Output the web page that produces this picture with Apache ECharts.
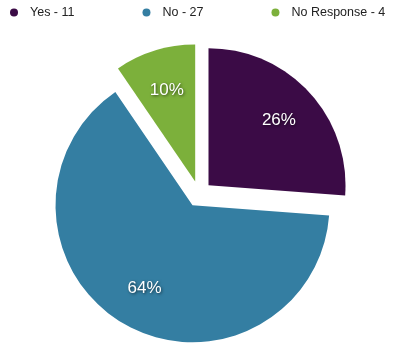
<!DOCTYPE html>
<html>
<head>
<meta charset="utf-8">
<script src="https://cdn.jsdelivr.net/npm/echarts@6/dist/echarts.min.js"></script>
<style>html,body{margin:0;padding:0;background:#fff}#c{width:400px;height:355px}</style>
</head>
<body>
<div id="c"></div>
<script>
const categories = ['Yes', 'No', 'No Response'];
const values = [11, 27, 4];
const colors = ['#3b0b46', '#347ea2', '#7cb03b'];

const chart = echarts.init(document.getElementById('c'), null, {renderer: 'canvas'});
const dataMain = categories.map((n, i) => ({name: n, value: values[i], selected: true, itemStyle: {color: colors[i]}}));
const dataLabel = categories.map((n, i) => ({name: n, value: values[i], selected: true, itemStyle: {color: 'rgba(0,0,0,0)'}}));
const center = [199, 194];
chart.setOption({
  animation: false,
  legend: {
    left: 5, top: 1,
    icon: 'circle',
    itemWidth: 22, itemHeight: 8,
    itemGap: 68,
    selectedMode: false,
    data: categories,
    formatter: name => name + ' - ' + values[categories.indexOf(name)],
    textStyle: {fontFamily: 'Liberation Sans, Arial, sans-serif', fontSize: 12.5, color: '#222'}
  },
  series: [
    {
      type: 'pie', center: center, radius: [0, 137], startAngle: 90, clockwise: true,
      selectedMode: 'multiple', selectedOffset: 13,
      label: {show: false}, labelLine: {show: false},
      emphasis: {disabled: true},
      silent: true,
      data: dataMain
    },
    {
      type: 'pie', center: center, radius: [49, 137], startAngle: 90, clockwise: true,
      selectedMode: 'multiple', selectedOffset: 13,
      percentPrecision: 0,
      label: {
        show: true, position: 'inside', formatter: '{d}%',
        color: '#fff', fontSize: 17, fontFamily: 'Liberation Sans, Arial, sans-serif',
        textShadowColor: 'rgba(0,0,0,0.6)', textShadowBlur: 3, textShadowOffsetX: 1, textShadowOffsetY: 1
      },
      labelLine: {show: false},
      emphasis: {disabled: true},
      silent: true,
      data: dataLabel
    }
  ]
});
</script>
</body>
</html>
